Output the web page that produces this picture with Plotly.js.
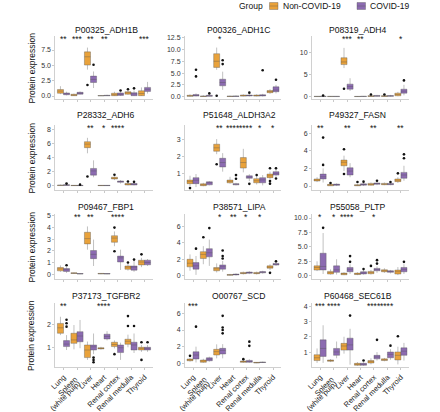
<!DOCTYPE html>
<html><head><meta charset="utf-8">
<script src="https://cdn.plot.ly/plotly-3.0.1.min.js"></script>
<style>html,body{margin:0;padding:0;background:#fff}#chart{width:440px;height:412px}</style>
</head><body><div id="chart"></div>
<script>
const categories = ["Lung","Spleen<br>(white pulp)","Liver","Heart","Renal cortex","Renal medulla","Thyroid"];
const groups = ["Non-COVID-19","COVID-19"];
const genes = ["P00325_ADH1B","P00326_ADH1C","P08319_ADH4","P28332_ADH6","P51648_ALDH3A2","P49327_FASN",
               "P09467_FBP1","P38571_LIPA","P55058_PLTP","P37173_TGFBR2","O00767_SCD","P60468_SEC61B"];

// per category: [lower whisker, q1, median, q3, upper whisker]; null = no data
const adh1b_non = [[0.3,0.45,0.8,1.05,1.6],[0,0.05,0.15,0.28,0.4],[4.3,5.05,6.4,7.2,7.9],[0,0.02,0.05,0.08,0.12],[0,0.05,0.2,0.45,0.7],[0.2,0.3,0.55,0.7,0.9],[0,0.05,0.4,0.85,1.4]];
const adh1b_cov = [[0.1,0.2,0.35,0.5,0.7],[0.25,0.3,0.45,0.6,0.75],[1.3,2.2,2.7,3.25,4.0],[0,0.03,0.08,0.12,0.2],[0,0.1,0.25,0.5,0.7],[0,0.05,0.35,0.55,0.9],[0.4,0.75,1.1,1.4,2.3]];
const adh1b_non_out = [[],[],[1.8],[],[],[1.1],[]];
const adh1b_cov_out = [[],[],[5.1],[],[0.9],[1.25],[]];
const adh1b_sig = ["**","***","**","**","","","***"];

const adh1c_non = [[0,0.08,0.15,0.3,0.5],[0,0.03,0.08,0.15,0.3],[5.7,6.2,7.5,9.1,10.4],[0,0.03,0.08,0.12,0.2],[0.05,0.12,0.2,0.35,0.5],[0.05,0.12,0.22,0.35,0.5],[0.6,0.85,1.1,1.3,1.6]];
const adh1c_cov = [[0.05,0.12,0.25,0.45,0.7],[0.03,0.08,0.15,0.3,0.45],[1.45,2.3,3.0,3.7,5.3],[0,0.05,0.1,0.15,0.25],[0.05,0.15,0.25,0.35,0.55],[0.05,0.15,0.28,0.4,0.6],[0.7,1.05,1.4,2.1,2.5]];
const adh1c_non_out = [[],[],[0.2],[],[],[],[]];
const adh1c_cov_out = [[5.7,4.3],[0.7],[7.7,6.9],[],[0.85],[5.6],[3.6]];
const adh1c_sig = ["","","*","","","",""];

const adh4_non = [[0,0.02,0.05,0.08,0.12],[0,0.02,0.05,0.08,0.12],[6.5,7.3,7.9,8.85,11.1],[0,0.02,0.04,0.07,0.1],[0,0.05,0.12,0.22,0.35],[0,0.05,0.12,0.22,0.35],[0.1,0.2,0.5,0.8,1.1]];
const adh4_cov = [[0,0.03,0.06,0.1,0.15],[0,0.02,0.05,0.08,0.12],[1.3,1.7,2.3,2.85,4.2],[0,0.03,0.06,0.1,0.15],[0,0.08,0.15,0.28,0.4],[0,0.08,0.15,0.25,0.4],[0.3,0.8,1.25,1.7,2.7]];
const adh4_non_out = [[],[],[1.8],[],[0.5],[0.5],[]];
const adh4_cov_out = [[0.25],[],[],[],[],[],[3.7]];
const adh4_sig = ["","","***","**","","","*"];

const adh6_non = [[0,0.02,0.05,0.1,0.15],[0,0.01,0.03,0.05,0.08],[4.6,5.4,5.9,6.25,6.8],[0,0.01,0.03,0.05,0.08],[0.8,0.95,1.05,1.2,1.35],[0.05,0.1,0.22,0.32,0.45],null];
const adh6_cov = [[0,0.04,0.08,0.15,0.22],[0,0.01,0.03,0.05,0.08],[1.2,1.5,2.1,2.45,3.6],[0,0.01,0.03,0.05,0.08],[0.3,0.48,0.6,0.67,0.8],[0.05,0.1,0.22,0.32,0.45],null];
const adh6_non_out = [[],[],[1.3],[],[1.55],[0.6],[]];
const adh6_cov_out = [[0.3],[0.15],[],[],[],[0.55],[]];
const adh6_sig = ["","","**","*","****","",""];

const aldh3a2_non = [[0.25,0.4,0.52,0.61,0.86],[0.25,0.28,0.33,0.39,0.45],[2.12,2.29,2.49,2.7,3.0],[0.4,0.45,0.53,0.61,0.8],[1.06,1.31,1.63,1.92,2.43],[0.35,0.45,0.57,0.69,0.8],[0.65,0.75,0.86,0.96,1.1]];
const aldh3a2_cov = [[0.2,0.4,0.6,0.75,0.96],[0.3,0.33,0.45,0.51,0.55],[1.1,1.37,1.63,1.88,2.18],[0.3,0.33,0.37,0.4,0.45],[0.55,0.71,0.78,0.86,0.95],[0.3,0.45,0.62,0.75,0.9],[0.8,0.9,1.0,1.1,1.37]];
const aldh3a2_non_out = [[0.14],[],[1.53],[],[],[0.9],[1.3,0.55,0.4]];
const aldh3a2_cov_out = [[],[],[],[0.9,0.69],[0.39],[],[1.3,0.7]];
const aldh3a2_sig = ["","","**","****","****","*","*"];

const fasn_non = [[0.45,0.57,0.68,0.8,1.0],[0,0.03,0.12,0.19,0.25],[1.7,2.3,2.7,2.95,3.45],[0,0.03,0.08,0.15,0.25],[0.05,0.1,0.18,0.3,0.4],[0.1,0.15,0.22,0.3,0.4],[0.35,0.5,0.65,0.8,1.0]];
const fasn_cov = [[0.4,0.8,1.05,1.36,2.0],[0,0.08,0.15,0.22,0.3],[1.0,1.25,1.7,2.08,2.6],[0,0.1,0.18,0.25,0.35],[0.1,0.2,0.28,0.35,0.45],[0.1,0.15,0.22,0.3,0.4],[0.6,0.88,1.25,1.55,2.3]];
const fasn_non_out = [[],[0.35],[4.17,1.36],[0.45],[],[],[1.44]];
const fasn_cov_out = [[5.5,2.4],[],[],[0.5],[0.6],[0.45],[3.6,3.15]];
const fasn_sig = ["**","","**","","**","","**"];

const fbp1_non = [[0.2,0.28,0.45,0.57,0.75],[0.02,0.06,0.08,0.11,0.14],[2.1,2.6,3.05,3.6,4.1],[0,0.02,0.04,0.06,0.08],[2.4,2.74,3.1,3.3,3.67],[0.3,0.42,0.6,0.7,0.9],[0.6,0.79,1.04,1.19,1.4]];
const fbp1_cov = [[0.1,0.23,0.38,0.48,0.6],[0,0.01,0.03,0.05,0.07],[0.7,1.33,1.7,2.03,2.97],[0,0.01,0.03,0.05,0.07],[0.36,1.04,1.4,1.55,2.1],[0.2,0.34,0.6,0.7,1.13],[0.7,0.8,1.0,1.2,1.3]];
const fbp1_non_out = [[],[],[],[],[4.0,1.97],[1.0],[1.7]];
const fbp1_cov_out = [[0.76],[],[],[],[],[1.25],[]];
const fbp1_sig = ["","**","**","","****","",""];

const lipa_non = [[0.6,1.08,1.52,2.0,2.6],[1.4,2.09,2.6,2.93,3.6],[0.4,0.6,0.85,1.0,1.5],[0,0.05,0.1,0.15,0.22],[0.15,0.25,0.3,0.4,0.5],[0.15,0.25,0.3,0.4,0.5],[0.7,0.92,1.05,1.2,1.4]];
const lipa_cov = [[0.1,0.8,1.2,1.6,2.4],[1.2,2.3,2.8,3.3,4.4],[0.5,0.8,1.1,1.32,1.8],[0.02,0.1,0.15,0.2,0.28],[0.2,0.3,0.38,0.45,0.55],[0.25,0.35,0.42,0.5,0.6],[1.2,1.3,1.4,1.5,1.6]];
const lipa_non_out = [[],[4.68],[],[],[],[],[0.35]];
const lipa_cov_out = [[3.3],[5.8],[3.08,2.4,2.1],[],[],[],[1.75]];
const lipa_sig = ["","","*","**","*","*",""];

const pltp_non = [[0.8,0.98,1.43,1.71,2.5],[0.2,0.29,0.55,0.75,1.1],[0.1,0.17,0.35,0.46,0.6],[0.1,0.2,0.3,0.45,0.6],[0.2,0.35,0.6,0.75,1.0],[0.5,0.68,0.9,1.03,1.3],[0.1,0.29,0.7,0.98,1.5]];
const pltp_cov = [[0.3,1.0,1.6,3.9,7.4],[0.2,0.58,1.03,1.71,2.86],[0.3,0.68,1.1,1.43,2.0],[0.2,0.3,0.5,0.7,0.9],[0.5,0.86,1.1,1.27,1.6],[0.4,0.58,0.75,0.86,1.0],[0.3,0.68,1.1,1.43,2.0]];
const pltp_non_out = [[],[],[],[],[1.7],[],[]];
const pltp_cov_out = [[8.3],[],[3.4,2.4],[1.15],[2.7,2.1],[],[2.4]];
const pltp_sig = ["*","*","****","","*","",""];

const tgfbr2_non = [[1.53,1.61,1.85,2.04,2.33],[0.91,1.17,1.32,1.61,1.97],[0.45,0.55,0.88,1.1,1.25],[0.9,0.93,0.95,0.98,1.02],[0.95,1.03,1.12,1.22,1.3],[1.0,1.13,1.26,1.35,1.55],[0.8,0.88,0.95,1.0,1.1]];
const tgfbr2_cov = [[0.88,1.03,1.14,1.29,1.53],[0.96,1.24,1.49,1.68,2.19],[0.7,0.88,1.02,1.1,1.6],[1.3,1.36,1.47,1.57,1.7],[0.45,0.77,0.98,1.1,1.2],[0.75,0.88,1.1,1.22,1.6],[0.8,0.88,0.95,1.0,1.1]];
const tgfbr2_non_out = [[],[],[],[],[0.7],[2.36,1.93],[1.22,0.45]];
const tgfbr2_cov_out = [[2.2,2.05,1.9],[],[0.55,0.45,0.35],[],[],[1.93],[1.22]];
const tgfbr2_sig = ["**","","","****","","",""];

const scd_non = [[0.2,0.31,0.42,0.52,0.65],[0.05,0.12,0.28,0.4,0.55],[0.6,1.0,1.4,1.68,2.28],null,[0.05,0.12,0.2,0.28,0.4],[0.02,0.05,0.08,0.12,0.16],null];
const scd_cov = [[0.1,0.52,1.0,1.39,2.0],[0.2,0.31,0.5,0.67,0.8],[0.6,1.12,1.55,1.8,2.3],null,[0.05,0.12,0.22,0.35,0.5],[0.05,0.1,0.12,0.15,0.2],null];
const scd_non_out = [[0.9],[],[],[],[0.5],[],[]];
const scd_cov_out = [[4.4],[],[5.7,4.3,4.0,3.6],[],[2.6,2.1],[],[]];
const scd_sig = ["***","","","","","",""];

const sec61b_non = [[0.3,0.45,0.63,0.83,1.24],[0.35,0.4,0.45,0.49,0.55],[0.9,1.13,1.4,1.57,2.0],[0.1,0.14,0.2,0.27,0.35],[0.2,0.29,0.38,0.45,0.6],[0.4,0.45,0.5,0.56,0.62],[0.2,0.49,0.79,1.01,1.35]];
const sec61b_cov = [[0.3,0.72,1.24,1.8,2.75],[0.6,0.79,1.01,1.24,1.69],[0.18,1.13,1.47,1.91,2.52],[0.1,0.14,0.22,0.27,0.35],[0.45,0.56,0.68,0.79,1.0],[0.5,0.63,0.85,1.01,1.2],[0.45,0.79,1.06,1.28,1.6]];
const sec61b_non_out = [[],[],[],[],[],[],[2.03]];
const sec61b_cov_out = [[],[],[3.38],[0.45],[1.8],[1.42],[]];
const sec61b_sig = ["***","****","","","****","****",""];

// y-axis settings per panel
const yRanges = [[-0.49,9.79],[-0.49,12.85],[-0.53,13.8],[-0.61,8.62],[0.03,3.82],[-0.45,6.93],
                 [-0.42,5.17],[-0.4,7.52],[-0.57,10.7],[0.14,2.93],[-0.44,7.24],[0.03,4.2]];
const yDticks = [2.5,2.5,5,2,1,2,1,2,2.5,1,2,1];

const nonStats = [adh1b_non,adh1c_non,adh4_non,adh6_non,aldh3a2_non,fasn_non,fbp1_non,lipa_non,pltp_non,tgfbr2_non,scd_non,sec61b_non];
const covStats = [adh1b_cov,adh1c_cov,adh4_cov,adh6_cov,aldh3a2_cov,fasn_cov,fbp1_cov,lipa_cov,pltp_cov,tgfbr2_cov,scd_cov,sec61b_cov];
const nonOut = [adh1b_non_out,adh1c_non_out,adh4_non_out,adh6_non_out,aldh3a2_non_out,fasn_non_out,fbp1_non_out,lipa_non_out,pltp_non_out,tgfbr2_non_out,scd_non_out,sec61b_non_out];
const covOut = [adh1b_cov_out,adh1c_cov_out,adh4_cov_out,adh6_cov_out,aldh3a2_cov_out,fasn_cov_out,fbp1_cov_out,lipa_cov_out,pltp_cov_out,tgfbr2_cov_out,scd_cov_out,sec61b_cov_out];
const sigs = [adh1b_sig,adh1c_sig,adh4_sig,adh6_sig,aldh3a2_sig,fasn_sig,fbp1_sig,lipa_sig,pltp_sig,tgfbr2_sig,scd_sig,sec61b_sig];

const W = 440, H = 412;
const FONT = "Liberation Sans, Arial, sans-serif";
const fills = ["#E9A23B", "#8C6BB1"];
const boxLine = "rgba(80,80,80,0.45)";
const colPx = [[55.4,152.6],[185,281],[312,409]];
const rowPx = [[36,99],[125,190],[214,279],[303,367]];
const titleX = [106,239,357.5];
const titleY = [30,115,206.7,296];
const px = v => v / W, py = v => 1 - v / H;
const offsets = [-0.225, 0.225];
const tickIdx = categories.map((_, i) => i + 1);
const splitLines = categories[1].split("<br>");       // the two-line label, one line per overlaid axis
const lineNudge = [[-2, 2], [1, 6]];                   // [shift along axis, standoff] per line

const data = [];
const layout = {
  width: W, height: H, margin: {l:0,r:0,t:0,b:0},
  paper_bgcolor: "#fff", plot_bgcolor: "#fff", showlegend: false,
  font: {family: FONT, color: "#222"},
  annotations: [], shapes: []
};
const tickFontX = {size: 7.5, color: "#222", family: FONT};
let extraAxis = 13;

genes.forEach((gene, k) => {
  const n = k + 1, r = Math.floor(k / 3), c = k % 3;
  const xa = "x" + n, ya = "y" + n;
  [nonStats[k], covStats[k]].forEach((stats, g) => {
    const xs = [], lo = [], q1 = [], md = [], q3 = [], hi = [];
    stats.forEach((s, i) => {
      if (!s) return;
      xs.push(i + 1 + offsets[g]); lo.push(s[0]); q1.push(s[1]); md.push(s[2]); q3.push(s[3]); hi.push(s[4]);
    });
    data.push({type: "box", name: groups[g], xaxis: xa, yaxis: ya, x: xs,
      lowerfence: lo, q1: q1, median: md, q3: q3, upperfence: hi,
      width: 0.45, whiskerwidth: 0, fillcolor: fills[g],
      line: {color: boxLine, width: 0.8}, boxpoints: false, hoverinfo: "skip"});
    const ox = [], oy = [];
    [nonOut[k], covOut[k]][g].forEach((vals, i) => vals.forEach(v => { ox.push(i + 1 + offsets[g]); oy.push(v); }));
    if (ox.length) data.push({type: "scatter", mode: "markers", xaxis: xa, yaxis: ya, x: ox, y: oy,
      marker: {color: "#111", size: 2.6}, hoverinfo: "skip", name: groups[g] + " outliers"});
  });
  const bottom = r === 3;
  layout["xaxis" + n] = {
    domain: [px(colPx[c][0]), px(colPx[c][1])], anchor: ya, range: [0.4, 7.6],
    showline: true, linecolor: "#d0d0d0", linewidth: 1, ticks: "outside", ticklen: 2,
    tickcolor: "#bbbbbb", tickwidth: 0.8, tickvals: tickIdx,
    ticktext: categories.map((t, i) => i === 1 ? "" : t),
    showticklabels: bottom, tickangle: -45, tickfont: tickFontX,
    zeroline: false, showgrid: false, fixedrange: true
  };
  if (bottom) {
    splitLines.forEach((line, j) => {
      const m = extraAxis++;
      layout["xaxis" + m] = {
        domain: [px(colPx[c][0]), px(colPx[c][1])], anchor: ya, overlaying: xa, range: [0.4, 7.6],
        showline: false, ticks: "outside", ticklen: 2, tickcolor: "rgba(0,0,0,0)",
        tickvals: [2], ticktext: [line], tickangle: -45,
        ticklabelshift: lineNudge[j][0], ticklabelstandoff: lineNudge[j][1],
        tickfont: tickFontX, zeroline: false, showgrid: false, fixedrange: true
      };
      data.push({type: "scatter", mode: "markers", xaxis: "x" + m, yaxis: ya, x: [2], y: [yRanges[k][0]],
        marker: {opacity: 0}, hoverinfo: "skip", showlegend: false});
    });
  }
  layout["yaxis" + n] = {
    domain: [py(rowPx[r][1]), py(rowPx[r][0])], anchor: xa, range: yRanges[k],
    showline: true, linecolor: "#d0d0d0", linewidth: 1, ticks: "outside", ticklen: 2,
    tickcolor: "#bbbbbb", tickwidth: 0.8, tick0: 0, dtick: yDticks[k],
    tickformat: yDticks[k] === 2.5 ? ".1f" : "", tickfont: {size: 7, color: "#333", family: FONT},
    zeroline: false, showgrid: false, fixedrange: true
  };
  layout.annotations.push({text: gene, x: px(titleX[c]), y: py(titleY[r]), xref: "paper", yref: "paper",
    showarrow: false, xanchor: "center", yanchor: "middle", font: {size: 8.6, color: "#111"}});
  sigs[k].forEach((s, i) => {
    if (!s) return;
    layout.annotations.push({text: s, x: i + 1, xref: xa, y: 0.955, yref: ya + " domain",
      showarrow: false, xanchor: "center", yanchor: "middle", font: {size: 8.5, color: "#111"}});
  });
  if (c === 0) {
    layout.annotations.push({text: "Protein expression", textangle: -90, x: px(31),
      y: py((rowPx[r][0] + rowPx[r][1]) / 2), xref: "paper", yref: "paper", showarrow: false,
      xanchor: "center", yanchor: "middle", font: {size: 8.5, color: "#111"}});
  }
});

// legend (drawn manually to match compact spacing)
const legY = 6;
layout.annotations.push({text: "Group", x: px(265), y: py(legY), xref: "paper", yref: "paper",
  showarrow: false, xanchor: "right", yanchor: "middle", font: {size: 8.5, color: "#111"}});
const legItems = [[269.5, 280.5], [357, 368]];
legItems.forEach((it, g) => {
  layout.shapes.push({type: "rect", xref: "paper", yref: "paper", x0: px(it[0]), x1: px(it[0] + 8.5),
    y0: py(legY + 3.5), y1: py(legY - 3.5), fillcolor: fills[g], line: {color: boxLine, width: 0.8}});
  layout.shapes.push({type: "line", xref: "paper", yref: "paper", x0: px(it[0]), x1: px(it[0] + 8.5),
    y0: py(legY), y1: py(legY), line: {color: boxLine, width: 0.8}});
  layout.annotations.push({text: groups[g], x: px(it[1]), y: py(legY), xref: "paper", yref: "paper",
    showarrow: false, xanchor: "left", yanchor: "middle", font: {size: 8.5, color: "#111"}});
});

Plotly.newPlot("chart", data, layout, {displayModeBar: false, staticPlot: true});
</script>
</body></html>
